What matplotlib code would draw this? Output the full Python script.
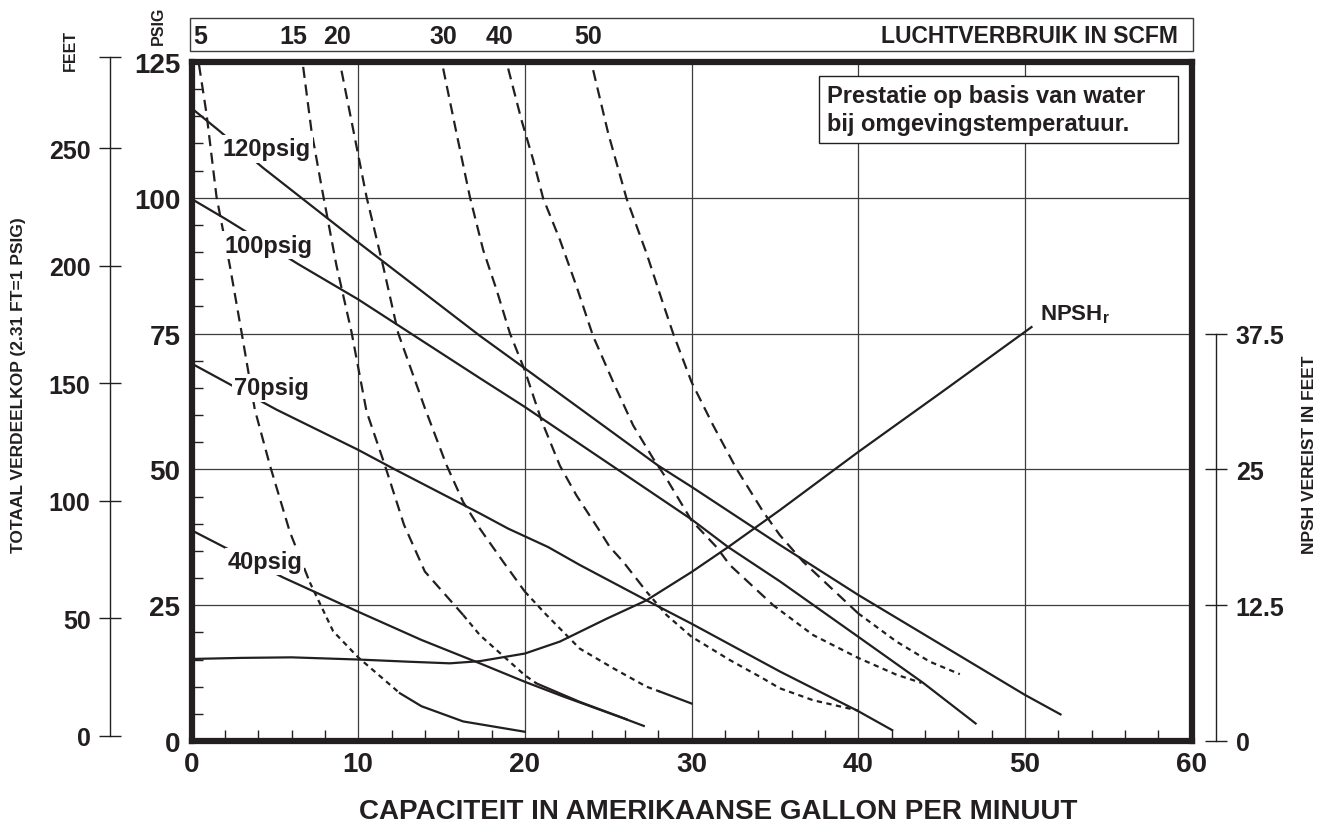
import numpy as np
import matplotlib
matplotlib.use('Agg')
import matplotlib.pyplot as plt
from matplotlib.patches import Rectangle
from matplotlib.ticker import MultipleLocator

plt.rcParams['font.family'] = ['Liberation Sans', 'DejaVu Sans']
plt.rcParams['font.weight'] = 'bold'
plt.rcParams['mathtext.fontset'] = 'custom'
plt.rcParams['mathtext.rm'] = 'Liberation Sans:bold'
plt.rcParams['mathtext.bf'] = 'Liberation Sans:bold'

INK = '#231f20'
GRID = '#3c3c3c'

# Pressure curves: capacity (GPM) vs discharge head (PSIG)
gpm_120 = [0, 1.6, 4.3, 10, 17.3, 20, 28, 30, 35.3, 40, 50, 52.2]
psig_120 = [116.5, 112.5, 105.5, 91.8, 74.6, 68.6, 50.7, 46.8, 36.1, 26.9, 8.5, 4.8]
gpm_100 = [0, 2.1, 6.4, 10, 17.3, 20, 30, 32.2, 35.3, 40, 43.9, 47.1]
psig_100 = [99.8, 96, 87.8, 81.3, 66.8, 61.5, 40.8, 35.7, 29.4, 19.2, 10.7, 3.1]
gpm_70 = [0, 5.1, 10, 12.2, 17.3, 19, 21.4, 23.3, 27.3, 30, 35.3, 40, 42.1]
psig_70 = [69.5, 61, 53.6, 50, 41.9, 39.1, 35.7, 32.4, 25.9, 21.6, 12.8, 5.5, 1.9]
gpm_40 = [0, 5.5, 10, 13.8, 17.3, 20, 22.3, 25.9, 27.2]
psig_40 = [38.8, 30.1, 23.8, 18.6, 14.3, 10.9, 8.2, 4.2, 2.7]

# Air consumption curves (SCFM)
scfm_5_gpm = [0.45, 0.9, 1.5, 2.3, 3.0, 3.8, 4.7, 5.9, 7.1, 8.5, 10, 12.5, 13.8, 16.3, 20]
scfm_5_psig = [124.5, 115.5, 100.2, 87.5, 75.3, 61, 50.8, 38.5, 29.2, 20.2, 15.4, 8.8, 6.4, 3.6, 1.7]
scfm_15_gpm = [6.7, 7.2, 7.8, 8.7, 9.6, 10.5, 11.6, 12.75, 14.0, 16.3, 17.3, 20, 20.7, 23.3, 26.1]
scfm_15_psig = [124.1, 112.3, 102.1, 87.5, 75.3, 60.7, 50.8, 39.8, 31.2, 23.2, 19.5, 12.1, 10.6, 7.2, 4.0]
scfm_20_gpm = [9.0, 10.1, 10.5, 11.5, 12.4, 14.0, 15.3, 16.3, 17.3, 18.7, 20, 21.3, 23.3, 25.3, 27.3, 28.1, 30]
scfm_20_psig = [123.4, 106.4, 100.2, 87.4, 75.1, 61.3, 50.8, 44, 39.1, 33, 27.5, 23.2, 17, 13.4, 10, 9.1, 6.9]
scfm_30_gpm = [15.1, 15.9, 16.7, 17.5, 18.3, 19.1, 20, 21, 22.1, 23.1, 24.4, 25.1, 25.9, 27.3,
               28.5, 30, 32.3, 34.3, 35.3, 37.3, 40]
scfm_30_psig = [123.8, 111.9, 100.2, 90.4, 83.1, 75.1, 68.2, 59, 50.7, 45.2, 39.1, 35.7, 33, 27.5,
                23.2, 19.2, 14.9, 11.5, 9.7, 7.5, 5.6]
scfm_40_gpm = [19.0, 19.8, 20.5, 21.1, 22.1, 23.1, 24.1, 25.3, 26.5, 27.7, 28.5, 30, 31.5, 32.3,
               34.9, 37.3, 40, 42.3, 43.8]
scfm_40_psig = [123.8, 114.3, 107, 99.9, 92.3, 83.7, 74.5, 66.1, 58.1, 52, 48.3, 40.6, 35.7, 32.4,
                25, 19.5, 15.3, 12.2, 10.7]
scfm_50_gpm = [24.1, 25.0, 26.1, 27.3, 28.2, 28.9, 30, 31.3, 32.7, 34.3, 35.3, 36.7, 40, 42.3, 44.3, 46.1]
scfm_50_psig = [123.5, 111.9, 99.9, 89.8, 81.4, 75, 66.1, 58.1, 50.1, 42.2, 37.9, 33, 23.5, 18.3, 14.6, 12.3]

# NPSH required (feet)
npsh_gpm = [0, 3, 6, 10, 13, 15.5, 17.3, 20, 22.1, 24.9, 27.3, 30, 32.2, 35.3, 40, 45, 50.4]
npsh_ft = [7.55, 7.65, 7.7, 7.5, 7.3, 7.15, 7.35, 8.05, 9.15, 11.25, 12.95, 15.55, 17.85, 21.25,
           26.6, 32.1, 38.1]

# top scale labels (air consumption) and axis ticks
scfm_labels = ['5', '15', '20', '30', '40', '50']
scfm_label_gpm = [0.5, 6.1, 8.7, 15.1, 18.5, 23.8]
psig_ticks = [0, 25, 50, 75, 100, 125]
gpm_ticks = [0, 10, 20, 30, 40, 50, 60]
feet_ticks = [0, 50, 100, 150, 200, 250]
npsh_ticks = [0, 12.5, 25, 37.5]

W, H = 1327, 829
fig = plt.figure(figsize=(W / 100, H / 100), dpi=100)
ax = fig.add_axes([191.5 / W, 1 - 742 / H, 1000 / W, 679 / H])
ax.set_xlim(0, 60)
ax.set_ylim(0, 125)

# pressure lines
for g, p in [(gpm_120, psig_120), (gpm_100, psig_100), (gpm_70, psig_70), (gpm_40, psig_40)]:
    ax.plot(g, p, color=INK, lw=1.6, solid_capstyle='butt', zorder=2)

LONG = (5, 3)
SHORT = (2.4, 2)


def draw_scfm(x, y, solid_from=None):
    x = np.asarray(x, float)
    y = np.asarray(y, float)
    k = int(np.argmax(y < 30))
    j = len(x) - 1 if solid_from is None else int(np.searchsorted(x, solid_from))
    ax.plot(x[:k + 1], y[:k + 1], color=INK, lw=1.6, dashes=LONG, zorder=2)
    ax.plot(x[k:j + 1], y[k:j + 1], color=INK, lw=1.6, dashes=SHORT, zorder=2)
    if solid_from is not None:
        ax.plot(x[j:], y[j:], color=INK, lw=1.6, zorder=2)


draw_scfm(scfm_5_gpm, scfm_5_psig, solid_from=12.5)
draw_scfm(scfm_15_gpm, scfm_15_psig, solid_from=20.7)
draw_scfm(scfm_20_gpm, scfm_20_psig, solid_from=28.1)
draw_scfm(scfm_30_gpm, scfm_30_psig)
draw_scfm(scfm_40_gpm, scfm_40_psig)
draw_scfm(scfm_50_gpm, scfm_50_psig)

# pressure labels
lbl_box = dict(facecolor='white', edgecolor='none', pad=1.5)
for txt, gx, py in [('120psig', 4.5, 109), ('100psig', 4.6, 91.3), ('70psig', 4.8, 65), ('40psig', 4.4, 33.1)]:
    ax.text(gx, py, txt, ha='center', va='center', fontsize=17, color=INK, bbox=lbl_box, zorder=4)

# grid, spines, ticks
ax.set_xticks(gpm_ticks)
ax.set_yticks(psig_ticks)
ax.xaxis.set_minor_locator(MultipleLocator(2))
ax.yaxis.set_minor_locator(MultipleLocator(5))
ax.grid(True, which='major', color=GRID, lw=0.9)
ax.set_axisbelow(True)
ax.tick_params(which='major', length=0, labelsize=20, colors=INK, pad=7)
ax.tick_params(axis='y', which='major', pad=8)
ax.tick_params(which='minor', direction='in', length=8, width=1, color=INK)
for s in ax.spines.values():
    s.set_linewidth(4.5)
    s.set_color(INK)
    s.set_capstyle('projecting')

# top band: air consumption scale
ax.add_patch(Rectangle((-0.0015, 1.0162), 1.003, 0.0486, transform=ax.transAxes, fill=False,
                       edgecolor=GRID, lw=1, clip_on=False))
for lab, gx in zip(scfm_labels, scfm_label_gpm):
    ax.text(gx, 1.0383, lab, transform=ax.get_xaxis_transform(), ha='center', va='center',
            fontsize=18, color=INK)
ax.text(0.9865, 1.0383, 'LUCHTVERBRUIK IN SCFM', transform=ax.transAxes, ha='right', va='center',
        fontsize=16.5, color=INK)
ax.text(-0.0335, 1.0545, 'PSIG', transform=ax.transAxes, rotation=90, ha='center', va='center',
        fontsize=11.5, color=INK)

# info box
ax.add_patch(Rectangle((0.6275, 0.8807), 0.359, 0.0987, transform=ax.transAxes, facecolor='white',
                       edgecolor=INK, lw=1, zorder=4))
ax.text(0.6355, 0.9301, 'Prestatie op basis van water\nbij omgevingstemperatuur.', transform=ax.transAxes,
        ha='left', va='center', fontsize=17, linespacing=1.25, color=INK, zorder=5)

# axis titles
ax.text(0.5265, -0.103, 'CAPACITEIT IN AMERIKAANSE GALLON PER MINUUT', transform=ax.transAxes,
        ha='center', va='center', fontsize=20, color=INK)
ax.text(-0.1725, 0.5258, 'TOTAAL VERDEELKOP (2.31 FT=1 PSIG)', transform=ax.transAxes, rotation=90,
        ha='center', va='center', fontsize=12.5, color=INK)
ax.text(-0.1215, 1.0177, 'FEET', transform=ax.transAxes, rotation=90, ha='center', va='center',
        fontsize=11.5, color=INK)
ax.text(1.1175, 0.4227, 'NPSH VEREIST IN FEET', transform=ax.transAxes, rotation=90,
        ha='center', va='center', fontsize=12.5, color=INK)

# NPSH on right-hand scale (feet)
ax_n = ax.twinx()
ax_n.set_ylim(0, 62.5)
ax_n.plot(npsh_gpm, npsh_ft, color=INK, lw=1.6, zorder=3)
ax_n.text(50.9, 39.3, r'NPSH$_{\mathbf{r}}$', ha='left', va='center', fontsize=16, color=INK)
for s in ['top', 'bottom', 'left']:
    ax_n.spines[s].set_visible(False)
ax_n.spines['right'].set_position(('axes', 1.0245))
ax_n.spines['right'].set_bounds(0, 37.5)
ax_n.spines['right'].set_linewidth(1)
ax_n.spines['right'].set_color(INK)
ax_n.set_yticks(npsh_ticks)
ax_n.set_yticklabels(['0', '12.5', '25', '37.5'])
ax_n.tick_params(axis='y', direction='inout', length=16.5, width=1, labelsize=18, colors=INK, pad=6)

# left scale in feet of water
ax_ft = fig.add_axes([110 / W, 1 - 736.7 / H, 0.0001, (736.7 - 58.3) / H])
ax_ft.set_ylim(0, 125 * 2.31)
ax_ft.patch.set_visible(False)
for s in ['top', 'right', 'bottom']:
    ax_ft.spines[s].set_visible(False)
ax_ft.spines['left'].set_linewidth(1)
ax_ft.spines['left'].set_color(INK)
ax_ft.set_xticks([])
ax_ft.set_yticks(feet_ticks + [125 * 2.31])
ax_ft.set_yticklabels([str(v) for v in feet_ticks] + [''])
ax_ft.tick_params(axis='y', direction='inout', length=16, width=1, labelsize=18, colors=INK, pad=6)

fig.savefig('out.png', dpi=100, facecolor='white')
